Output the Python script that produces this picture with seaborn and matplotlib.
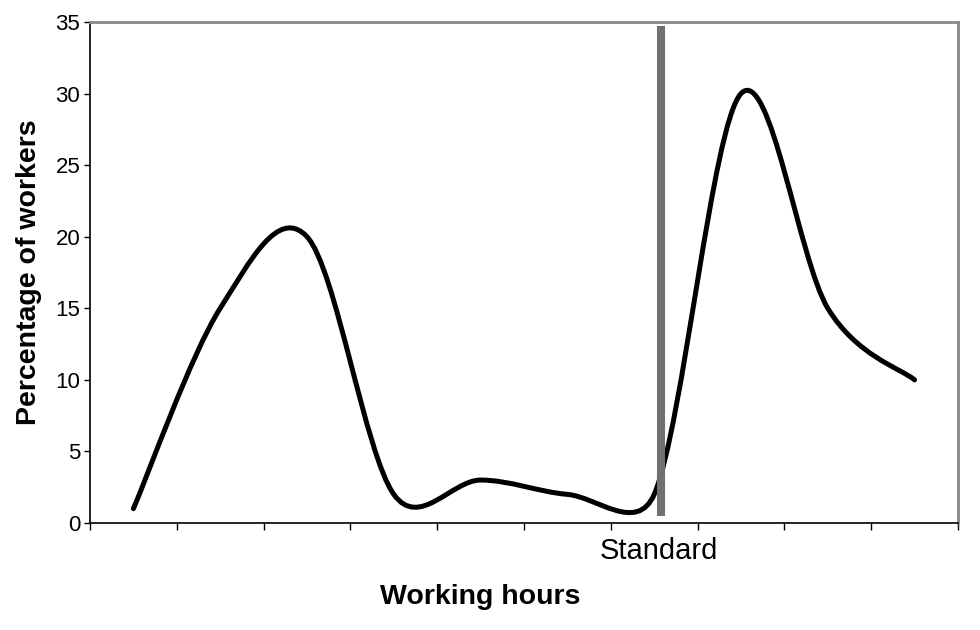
import numpy as np
import matplotlib
matplotlib.use("Agg")
import matplotlib.pyplot as plt
from matplotlib.path import Path
from matplotlib.patches import PathPatch
from matplotlib.transforms import ScaledTranslation
import seaborn as sns

# Data (percent of workers per working-hours band)
categories = ["", "", "", "", "", "", "Standard", "", "", ""]
workers_pct = [1, 15, 20, 2, 3, 2, 2, 30, 15, 10]
y_ticks = [0, 5, 10, 15, 20, 25, 30, 35]
standard_name = "Standard"

sns.set_theme(style="white")
plt.rcParams["font.family"] = ["Liberation Sans", "DejaVu Sans"]


def smooth_path(ax, xs, ys):
    # Excel-like smoothed line: cubic Bezier through the points,
    # tangents (P[i+1]-P[i-1])/6, capped at half the segment length
    pts = ax.transData.transform(np.column_stack([xs, ys]))
    n = len(pts)
    verts = [pts[0]]
    codes = [Path.MOVETO]
    for i in range(n - 1):
        p0 = pts[max(i - 1, 0)]
        p1 = pts[i]
        p2 = pts[i + 1]
        p3 = pts[min(i + 2, n - 1)]
        half = np.linalg.norm(p2 - p1) / 2
        t1 = (p2 - p0) / 6
        t2 = (p3 - p1) / 6
        if np.linalg.norm(t1) > half:
            t1 = t1 * half / np.linalg.norm(t1)
        if np.linalg.norm(t2) > half:
            t2 = t2 * half / np.linalg.norm(t2)
        verts += [p1 + t1, p2 - t2, p2]
        codes += [Path.CURVE4] * 3
    verts = ax.transData.inverted().transform(np.array(verts))
    return Path(verts, codes)


fig = plt.figure(figsize=(9.8, 6.3), dpi=100)
ax = fig.add_axes([90 / 980, 107 / 630, 868 / 980, 501 / 630])
x = np.arange(len(workers_pct))
ax.set_xlim(-0.5, len(x) - 0.5)
ax.set_ylim(0, 35)

line = PathPatch(smooth_path(ax, x, workers_pct), fill=False, edgecolor="black",
                 linewidth=3.6, capstyle="round", joinstyle="round", zorder=3)
ax.add_patch(line)

# grey marker line at the standard working time
std_x = categories.index(standard_name) + 0.08
ax.plot([std_x, std_x], [0.5, 34.7], color="#707070", linewidth=5.8,
        solid_capstyle="butt", zorder=5)

ax.set_xticks(x, categories)
ax.set_xticks(np.arange(-0.5, len(x)), minor=True)
ax.set_yticks(y_ticks)
ax.tick_params(axis="x", which="major", length=0, pad=10, labelsize=21)
ax.tick_params(axis="x", which="minor", bottom=True, length=5, width=1,
               color="black", direction="out")
ax.tick_params(axis="y", left=True, length=4, width=1, color="black",
               direction="out", pad=3, labelsize=16)
for lab in ax.get_xticklabels() + ax.get_yticklabels():
    lab.set_color("black")
shift = ScaledTranslation(0.05, 0, fig.dpi_scale_trans)
for lab in ax.get_xticklabels():
    lab.set_transform(lab.get_transform() + shift)

for side in ["left", "bottom"]:
    ax.spines[side].set_color("black")
    ax.spines[side].set_linewidth(1.2)
for side in ["top", "right"]:
    ax.spines[side].set_color("#888888")
    ax.spines[side].set_linewidth(2)

ax.set_xlabel("Working hours", fontsize=20.5, fontweight="bold", color="black",
              labelpad=14, x=0.449)
ax.set_ylabel("Percentage of workers", fontsize=20.5, fontweight="bold", color="black",
              labelpad=10)

fig.savefig("out.png", dpi=100)
